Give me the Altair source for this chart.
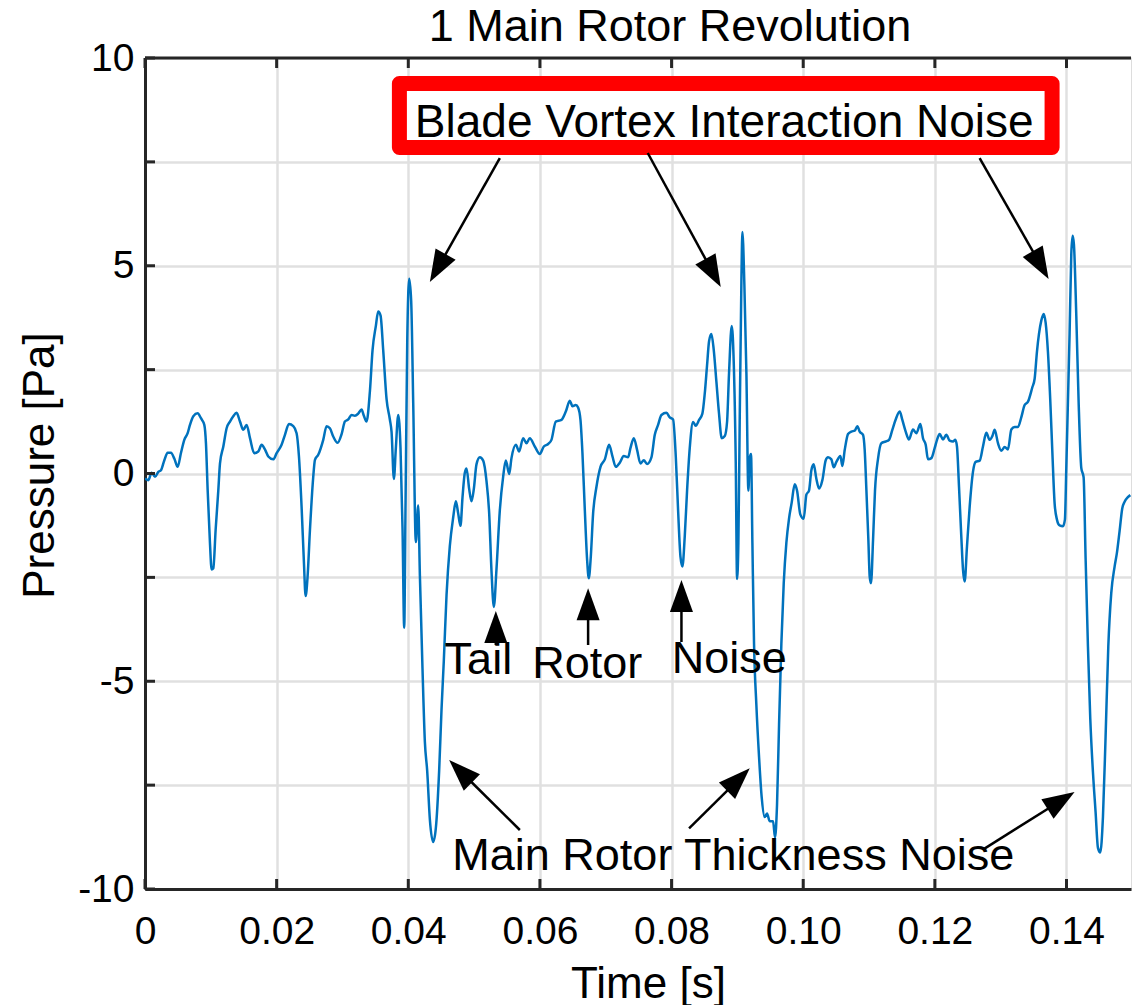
import math
import altair as alt
import pandas as pd

# ---------------- data ----------------
time_s = [
    0.00000, 0.00051, 0.00101, 0.00152, 0.00202, 0.00243, 0.00294, 0.00344, 0.00395, 0.00445,
    0.00496, 0.00547, 0.00597, 0.00648, 0.00683, 0.00734, 0.00800, 0.00850, 0.00901, 0.00926,
    0.00952, 0.00987, 0.01012, 0.01038, 0.01073, 0.01114, 0.01139, 0.01190, 0.01240, 0.01291,
    0.01341, 0.01392, 0.01443, 0.01493, 0.01544, 0.01595, 0.01660, 0.01721, 0.01772, 0.01822,
    0.01873, 0.01949, 0.02000, 0.02075, 0.02126, 0.02187, 0.02253, 0.02303, 0.02339, 0.02379,
    0.02415, 0.02440, 0.02470, 0.02506, 0.02556, 0.02582, 0.02632, 0.02708, 0.02759, 0.02809,
    0.02860, 0.02926, 0.02987,
    0.03037, 0.03088, 0.03138, 0.03189, 0.03239, 0.03290, 0.03325, 0.03366, 0.03417, 0.03457,
    0.03508, 0.03543, 0.03579, 0.03619, 0.03670, 0.03720, 0.03746, 0.03781, 0.03811, 0.03847,
    0.03882, 0.03913, 0.03938, 0.03958, 0.03984, 0.04014, 0.04044, 0.04075, 0.04115, 0.04151,
    0.04176, 0.04216, 0.04252, 0.04287, 0.04328, 0.04378, 0.04419, 0.04469, 0.04505, 0.04540,
    0.04581, 0.04631, 0.04682, 0.04723, 0.04758, 0.04793, 0.04824, 0.04859, 0.04885, 0.04925,
    0.04960, 0.04996, 0.05036, 0.05087, 0.05138, 0.05188, 0.05229, 0.05264, 0.05300,
    0.05340, 0.05391, 0.05441, 0.05482, 0.05533, 0.05568, 0.05634, 0.05684, 0.05745, 0.05796,
    0.05846, 0.05922, 0.05998, 0.06059, 0.06125, 0.06175, 0.06241, 0.06327, 0.06393, 0.06454,
    0.06494, 0.06545, 0.06580, 0.06616, 0.06646, 0.06682, 0.06717, 0.06742, 0.06773, 0.06808,
    0.06859, 0.06920, 0.06986, 0.07051, 0.07102, 0.07152, 0.07213, 0.07274, 0.07340, 0.07375,
    0.07426, 0.07476, 0.07527, 0.07578, 0.07628, 0.07694, 0.07745, 0.07795, 0.07846, 0.07922,
    0.07973, 0.08023, 0.08064, 0.08099, 0.08135, 0.08165, 0.08200, 0.08236, 0.08276,
    0.08327, 0.08367, 0.08418, 0.08468, 0.08504, 0.08539, 0.08570, 0.08605, 0.08640, 0.08681,
    0.08721, 0.08762, 0.08808, 0.08843, 0.08873, 0.08914, 0.08944, 0.08975, 0.08995, 0.09015,
    0.09035, 0.09061, 0.09076, 0.09106, 0.09137, 0.09167, 0.09187, 0.09207, 0.09228, 0.09253,
    0.09288, 0.09329, 0.09369, 0.09415, 0.09450, 0.09491, 0.09542, 0.09572, 0.09602, 0.09633,
    0.09668, 0.09704, 0.09744, 0.09784, 0.09825, 0.09871, 0.09906, 0.09957, 0.10007, 0.10048,
    0.10088, 0.10124, 0.10159, 0.10199,
    0.10241, 0.10291, 0.10342, 0.10377, 0.10428, 0.10463, 0.10504, 0.10565, 0.10595, 0.10631,
    0.10681, 0.10732, 0.10782, 0.10823, 0.10858, 0.10909, 0.10934, 0.10960, 0.10990, 0.11010,
    0.11030, 0.11061, 0.11091, 0.11137, 0.11187, 0.11253, 0.11304, 0.11354, 0.11405, 0.11466,
    0.11506, 0.11557, 0.11607, 0.11668, 0.11719, 0.11780, 0.11820, 0.11861, 0.11896, 0.11947,
    0.11997, 0.12033, 0.12073, 0.12124, 0.12174, 0.12225, 0.12276, 0.12311, 0.12336, 0.12367,
    0.12402, 0.12428, 0.12453, 0.12488, 0.12529, 0.12579, 0.12620, 0.12681, 0.12731, 0.12782,
    0.12833, 0.12873, 0.12909, 0.12959, 0.13010, 0.13061, 0.13111, 0.13162, 0.13212, 0.13263,
    0.13313, 0.13364, 0.13415,
    0.13480, 0.13516, 0.13551, 0.13582, 0.13617, 0.13653, 0.13683, 0.13718, 0.13754, 0.13784,
    0.13820, 0.13855, 0.13895, 0.13946, 0.13976, 0.13997, 0.14022, 0.14047, 0.14073, 0.14093,
    0.14113, 0.14149, 0.14184, 0.14225, 0.14260, 0.14290, 0.14326, 0.14361, 0.14402, 0.14442,
    0.14478, 0.14513, 0.14554, 0.14594, 0.14635, 0.14680, 0.14731, 0.14766, 0.14807, 0.14847,
    0.14883, 0.14933, 0.14969,
]
pressure_pa = [
    -0.12, -0.16, 0.02, -0.08, 0.04, 0.08, 0.32, 0.50, 0.50, 0.36,
    0.16, 0.50, 0.81, 0.97, 1.17, 1.38, 1.45, 1.33, 1.17, 0.73,
    -0.40, -1.68, -2.31, -2.28, -1.36, -0.40, 0.24, 0.65, 1.09, 1.25,
    1.38, 1.46, 1.25, 1.05, 1.17, 0.85, 0.49, 0.53, 0.69, 0.58,
    0.41, 0.34, 0.49, 0.69, 0.93, 1.19, 1.14, 0.97, 0.41, -0.80,
    -2.16, -2.95, -2.48, -1.36, -0.08, 0.33, 0.45, 0.81, 1.14, 1.09,
    0.89, 0.74, 0.95,
    1.25, 1.30, 1.41, 1.39, 1.44, 1.54, 1.39, 1.25, 1.98, 2.97,
    3.56, 3.90, 3.80, 2.97, 1.79, 1.30, 1.00, -0.13, 0.61, 1.41,
    0.61, -1.36, -3.71, -0.77, 3.16, 4.69, 4.15, 1.69, -1.65, -0.77,
    -2.44, -4.70, -6.46, -7.15, -8.33, -8.87, -8.53, -7.15, -5.68, -4.50,
    -2.93, -1.75, -1.06, -0.67, -0.96, -1.26, -0.57, 0.02, 0.12, -0.37,
    -0.67, -0.37, 0.22, 0.39, 0.31, -0.18, -0.96, -2.34, -3.21,
    -2.30, -0.88, -0.08, 0.31, -0.01, 0.37, 0.69, 0.53, 0.85, 0.73,
    0.85, 0.65, 0.47, 0.65, 0.71, 0.81, 1.25, 1.29, 1.49, 1.75,
    1.62, 1.65, 1.59, 1.29, 0.49, -0.88, -2.08, -2.52, -2.00, -0.96,
    -0.32, 0.16, 0.34, 0.69, 0.41, 0.16, 0.26, 0.42, 0.39, 0.61,
    0.85, 0.57, 0.24, 0.32, 0.23, 0.39, 0.93, 1.17, 1.41, 1.46,
    1.35, 1.30, 0.41, -0.88, -2.00, -2.24, -1.52, -0.40, 0.61,
    1.24, 1.15, 1.29, 1.44, 1.92, 2.60, 3.19, 3.36, 2.99, 2.21,
    1.44, 0.85, 0.90, 1.24, 2.41, 3.55, 2.70, 0.27, -2.54, -1.67,
    1.24, 4.64, 5.81, 4.55, 2.41, -0.41, 0.37, 0.47, -1.67, -4.10,
    -5.56, -6.82, -7.79, -8.27, -8.18, -8.37, -8.37, -8.76, -7.98, -6.04,
    -4.10, -2.64, -1.67, -1.09, -0.70, -0.26, -0.41, -0.99, -1.09, -0.51,
    -0.41, 0.08, 0.22, -0.12,
    -0.36, -0.16, 0.32, 0.39, 0.34, 0.15, 0.28, 0.42, 0.18, 0.57,
    0.95, 1.01, 1.03, 1.14, 1.01, 0.93, 0.57, -0.40, -1.60, -2.48,
    -2.64, -1.60, -0.40, 0.36, 0.73, 0.77, 0.81, 1.05, 1.30, 1.49,
    1.29, 1.01, 0.82, 1.06, 0.97, 1.19, 0.85, 0.69, 0.34, 0.37,
    0.61, 0.81, 0.95, 0.82, 0.93, 0.79, 0.77, 0.81, 0.65, -0.32,
    -1.52, -2.32, -2.60, -1.76, -0.80, 0.04, 0.28, 0.31, 0.65, 0.98,
    0.81, 0.90, 1.05, 0.73, 0.55, 0.64, 0.58, 1.06, 1.12, 1.12,
    1.35, 1.65, 1.73,
    2.07, 2.28, 2.93, 3.36, 3.68, 3.84, 3.63, 2.93, 1.74, 0.56,
    -0.73, -1.11, -1.25, -1.27, -1.11, 0.13, 1.74, 3.36, 5.29, 5.72,
    5.51, 3.79, 1.74, 0.13, -0.09, -2.02, -4.17, -5.89, -7.19, -8.15,
    -9.01, -9.12, -8.26, -6.33, -4.17, -2.88, -2.24, -1.91, -1.38, -0.84,
    -0.68, -0.57, -0.52,
]

x_ticks = [0, 0.02, 0.04, 0.06, 0.08, 0.10, 0.12, 0.14]
y_ticks = [-10, -7.5, -5, -2.5, 0, 2.5, 5, 7.5, 10]

chart_title = ["1 Main Rotor Revolution"]

# annotation texts and their anchor points (data units)
label_text = ["Tail", "Rotor", "Noise", "Main Rotor Thickness Noise"]
label_t = [0.05065, 0.06720, 0.08876, 0.08937]
label_p = [-4.83, -4.92, -4.80, -9.54]

box_text = ["Blade Vortex Interaction Noise"]
box_text_t = [0.0880]
box_text_p = [8.10]
box_t = [0.03865, 0.13781]
box_p = [7.846, 9.386]

arrow_tail_t = [0.05391, 0.07638, 0.12680, 0.05330, 0.06732, 0.08150, 0.05695, 0.08266, 0.12730]
arrow_tail_p = [7.593, 7.714, 7.593, -4.128, -4.128, -4.055, -8.580, -8.539, -9.051]
arrow_tip_t = [0.04328, 0.08747, 0.13728, 0.05330, 0.06732, 0.08150, 0.04621, 0.09188, 0.14123]
arrow_tip_p = [4.609, 4.489, 4.681, -3.309, -2.763, -2.563, -6.895, -7.095, -7.665]

# ---------------- layout / style ----------------
X_DOMAIN = [0, 0.1498]
Y_DOMAIN = [-10, 10]
W, H = 986, 831
FONT = "Liberation Sans"
AXIS_COLOR = "#262626"
GRID_COLOR = "#e0e0e0"
LINE_COLOR = "#0072BD"
HEAD_LEN = 32  # px

sx = W / (X_DOMAIN[1] - X_DOMAIN[0])
sy = H / (Y_DOMAIN[1] - Y_DOMAIN[0])

rows = []
for tt, tp, ht, hp in zip(arrow_tail_t, arrow_tail_p, arrow_tip_t, arrow_tip_p):
    dx = (ht - tt) * sx
    dy = -(hp - tp) * sy
    L = math.hypot(dx, dy)
    ang = math.degrees(math.atan2(dx, -dy)) % 360
    end_t = ht - (dx / L * (HEAD_LEN * 0.6)) / sx
    end_p = hp + (dy / L * (HEAD_LEN * 0.6)) / sy
    rows.append({"t": tt, "p": tp, "t2": end_t, "p2": end_p,
                 "ht": ht, "hp": hp, "angle": ang})
arrows_df = pd.DataFrame(rows)

line_df = pd.DataFrame({"t": time_s, "p": pressure_pa})
labels_df = pd.DataFrame({"t": label_t, "p": label_p, "label": label_text})
box_text_df = pd.DataFrame({"t": box_text_t, "p": box_text_p, "label": box_text})
box_df = pd.DataFrame({"t": [box_t[0]], "t2": [box_t[1]], "p": [box_p[0]], "p2": [box_p[1]]})
yt_df = pd.DataFrame({"p": y_ticks})
xt_df = pd.DataFrame({"t": x_ticks})
top_df = pd.DataFrame({"p": [Y_DOMAIN[1]]})
title_df = pd.DataFrame({"label": chart_title})

x_scale = alt.Scale(domain=X_DOMAIN, nice=False, zero=False)
y_scale = alt.Scale(domain=Y_DOMAIN, nice=False, zero=False)

x_axis = alt.Axis(
    values=x_ticks,
    labelExpr="datum.value == 0 ? '0' : format(datum.value, '.2f')",
    title="Time [s]", titleFont=FONT, titleFontSize=44, titleFontWeight="normal",
    titleColor="black", titleX=503, titleY=108, titleBaseline="alphabetic", titleAlign="center",
    labelFont=FONT, labelFontSize=39, labelColor="black", labelPadding=23,
    labelFlush=False, labelOverlap=False,
    ticks=False, tickSize=0, domain=True, domainColor=AXIS_COLOR, domainWidth=3,
    grid=True, gridColor=GRID_COLOR, gridWidth=2.5,
)
y_axis = alt.Axis(
    values=y_ticks,
    labelExpr="datum.value % 5 == 0 ? '' + datum.value : ''",
    title="Pressure [Pa]", titleFont=FONT, titleFontSize=44, titleFontWeight="normal",
    titleColor="black", titleX=-92, titleY=407, titleAngle=270,
    titleBaseline="alphabetic", titleAlign="center",
    labelFont=FONT, labelFontSize=39, labelColor="black", labelPadding=11,
    labelOverlap=False,
    ticks=False, tickSize=0, domain=True, domainColor=AXIS_COLOR, domainWidth=3,
    grid=True, gridColor=GRID_COLOR, gridWidth=2.5,
)

X = lambda f="t": alt.X(f"{f}:Q", scale=x_scale, axis=x_axis)
Y = lambda f="p": alt.Y(f"{f}:Q", scale=y_scale, axis=y_axis)

line = alt.Chart(line_df).mark_line(
    color=LINE_COLOR, strokeWidth=2.5, clip=True, interpolate="monotone"
).encode(x=X(), y=Y())

top_rule = alt.Chart(top_df).mark_rule(color=AXIS_COLOR, strokeWidth=3).encode(y=Y())

ytick_in = alt.Chart(yt_df).mark_rule(color=AXIS_COLOR, strokeWidth=3).encode(
    y=Y(), x=alt.value(0), x2=alt.value(10))
xtick_bottom = alt.Chart(xt_df).mark_rule(color=AXIS_COLOR, strokeWidth=3).encode(
    x=X(), y=alt.value(H), y2=alt.value(H - 10))
xtick_top = alt.Chart(xt_df).mark_rule(color=AXIS_COLOR, strokeWidth=3).encode(
    x=X(), y=alt.value(0), y2=alt.value(10))

box = alt.Chart(box_df).mark_rect(
    fill="white", stroke="#FF0000", strokeWidth=15, strokeJoin="round"
).encode(x=X(), x2="t2:Q", y=Y(), y2="p2:Q")

box_label = alt.Chart(box_text_df).mark_text(
    font=FONT, fontSize=46, color="black", align="center", baseline="alphabetic"
).encode(x=X(), y=Y(), text="label:N")

labels = alt.Chart(labels_df).mark_text(
    font=FONT, fontSize=45, color="black", align="center", baseline="alphabetic"
).encode(x=X(), y=Y(), text="label:N")

arrow_lines = alt.Chart(arrows_df).mark_rule(color="black", strokeWidth=2.5).encode(
    x=X(), y=Y(), x2="t2:Q", y2="p2:Q")

arrow_heads = alt.Chart(arrows_df).mark_point(
    shape="M0,0L-0.36,1L0.36,1Z", filled=True, color="black", opacity=1,
    size=(2 * HEAD_LEN) ** 2, strokeWidth=0
).encode(x=X("ht"), y=Y("hp"), angle=alt.Angle("angle:Q", scale=None))

# chart title, drawn as text above the plot area (centred like the reference)
title_mark = alt.Chart(title_df).mark_text(
    font=FONT, fontSize=45, color="black", align="center", baseline="alphabetic"
).encode(text="label:N", x=alt.value(525), y=alt.value(-17))

chart = alt.layer(
    line, top_rule, ytick_in, xtick_bottom, xtick_top,
    box, box_label, labels, arrow_lines, arrow_heads, title_mark,
).properties(
    width=W, height=H,
    autosize=alt.AutoSizeParams(type="none"),
    padding={"left": 145, "top": 58, "right": 1, "bottom": 116},
).configure_view(stroke=None).configure(background="white")

chart.save("out.html", embed_options={"renderer": "svg", "actions": False})
